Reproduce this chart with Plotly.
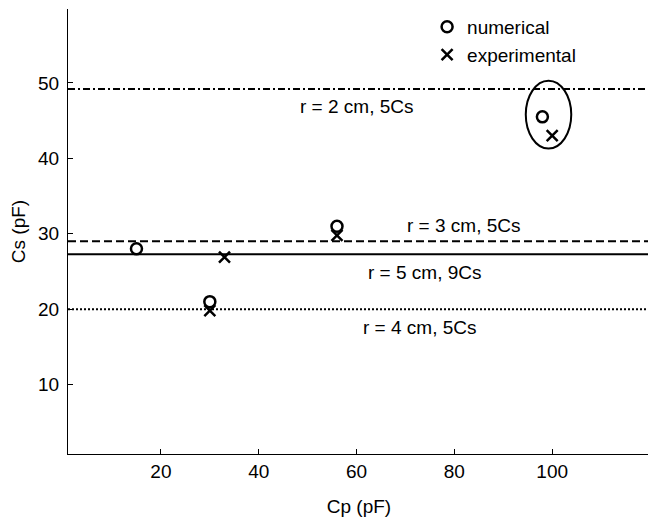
import plotly.graph_objects as go

# DATA
num_cp = [15, 30, 56, 98]
num_cs = [28.0, 21.0, 31.0, 45.5]
exp_cp = [30, 33, 56, 100]
exp_cs = [19.8, 26.9, 29.8, 43.0]

line_levels = [49.2, 29.0, 27.3, 20.0]
line_labels = ["r = 2 cm, 5Cs", "r = 3 cm, 5Cs", "r = 5 cm, 9Cs", "r = 4 cm, 5Cs"]
line_dashes = ["7px,3px,2px,3px", "8px,4px", "solid", "2px,2px"]
label_x = [60, 82, 74, 73]
label_y = [46.9, 31.1, 24.9, 17.6]

x_range = [1, 120]
y_range = [0.8, 59.8]

FONT = "Liberation Sans, Arial, sans-serif"

fig = go.Figure()

# horizontal reference lines
for lvl, dash in zip(line_levels, line_dashes):
    fig.add_trace(go.Scatter(
        x=x_range, y=[lvl, lvl],
        mode="lines",
        line=dict(color="black", width=2, dash=dash),
        showlegend=False,
        hoverinfo="skip"
    ))

fig.add_trace(go.Scatter(
    x=num_cp, y=num_cs,
    mode="markers",
    name="numerical",
    marker=dict(symbol="circle-open", size=11, color="black", line=dict(width=2.5))
))

fig.add_trace(go.Scatter(
    x=exp_cp, y=exp_cs,
    mode="markers",
    name="experimental",
    marker=dict(symbol="x-thin-open", size=11, color="black", line=dict(width=2.5))
))

# line labels
for lx, ly, txt in zip(label_x, label_y, line_labels):
    fig.add_annotation(x=lx, y=ly, text=txt, showarrow=False,
                       font=dict(size=19, color="black", family=FONT))

# ellipse round the r = 2 cm points
fig.add_shape(type="circle", xref="x", yref="y",
              x0=94.6, x1=103.9, y0=41.3, y1=50.3,
              line=dict(color="black", width=2))

# page body keeps its 8px default margin, so the figure is 16px smaller
fig.update_layout(
    width=648, height=513,
    margin=dict(l=60, r=6, t=0, b=67),
    paper_bgcolor="white",
    plot_bgcolor="white",
    font=dict(family=FONT, color="black", size=19),
    legend=dict(
        x=0.617, y=1.003, xanchor="left", yanchor="top",
        bgcolor="rgba(0,0,0,0)",
        font=dict(size=19),
        itemwidth=30
    ),
    xaxis=dict(
        range=x_range,
        tickvals=[20, 40, 60, 80, 100],
        ticks="inside", ticklen=5, tickcolor="black",
        showline=True, linecolor="black", linewidth=1,
        showgrid=False, zeroline=False, automargin=False,
        title=dict(text="Cp (pF)", font=dict(size=19), standoff=18)
    ),
    yaxis=dict(
        range=y_range,
        tickvals=[10, 20, 30, 40, 50],
        ticks="inside", ticklen=5, tickcolor="black",
        ticklabelstandoff=4,
        showline=True, linecolor="black", linewidth=1,
        showgrid=False, zeroline=False, automargin=False,
        title=dict(text="Cs (pF)", font=dict(size=19), standoff=16)
    )
)

fig.write_html("out.html")
